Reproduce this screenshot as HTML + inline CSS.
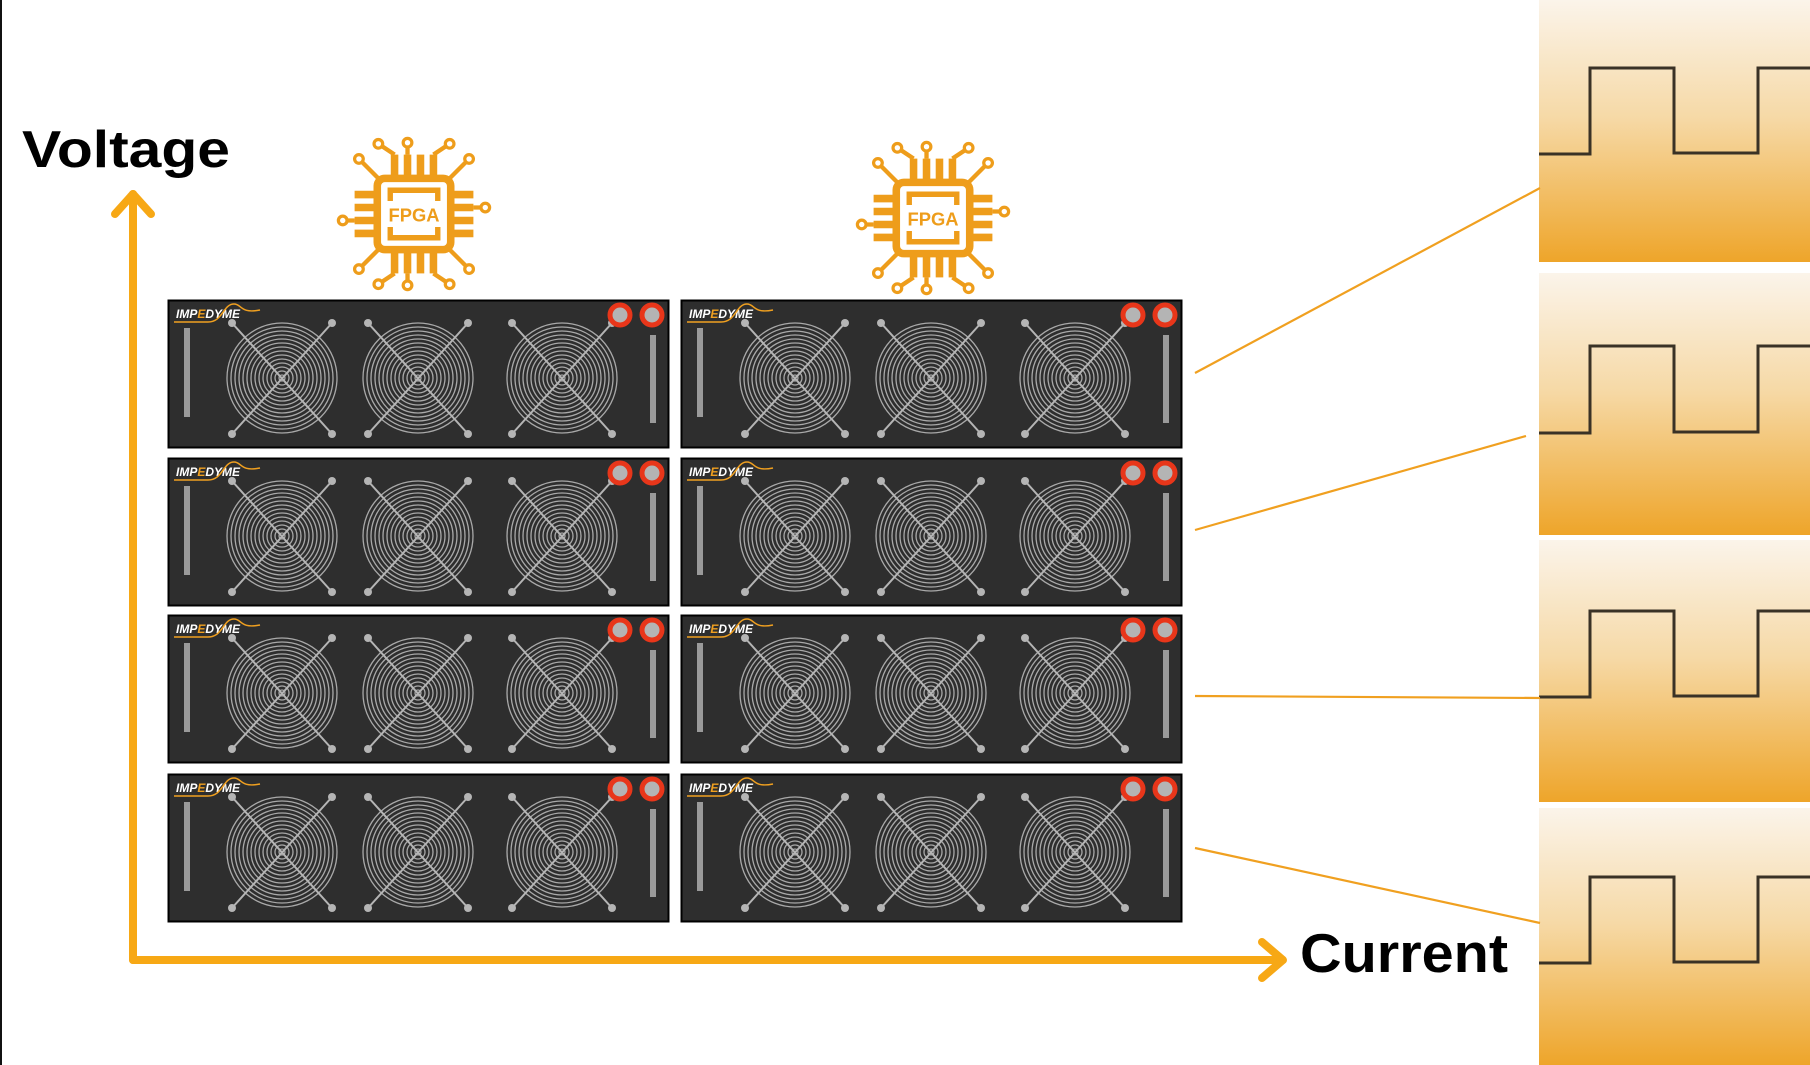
<!DOCTYPE html>
<html><head><meta charset="utf-8"><style>
html,body{margin:0;padding:0;background:#fff;}
svg{display:block;}
</style></head><body>
<svg width="1810" height="1065" viewBox="0 0 1810 1065" xmlns="http://www.w3.org/2000/svg">
<defs>
<linearGradient id="pg" x1="0" y1="0" x2="0" y2="1">
<stop offset="0" stop-color="#fbf4ea"/><stop offset="0.45" stop-color="#f6d9a6"/><stop offset="1" stop-color="#eea52a"/>
</linearGradient>
<g id="fan">
<g fill="none" stroke="#a9a9a9" stroke-width="1.3">
<circle r="55"/><circle r="51"/><circle r="47"/><circle r="43"/><circle r="39"/><circle r="35"/><circle r="31"/><circle r="27"/><circle r="23"/><circle r="19"/><circle r="15"/><circle r="11"/><circle r="7"/><circle r="3"/>
</g>
<g stroke="#b5b5b5" stroke-width="2"><line x1="-50" y1="-55" x2="50" y2="56"/><line x1="50" y1="-55" x2="-50" y2="56"/></g>
<g fill="#b5b5b5"><circle cx="-50" cy="-55" r="4"/><circle cx="50" cy="-55" r="4"/><circle cx="-50" cy="56" r="4"/><circle cx="50" cy="56" r="4"/></g>
</g>
<g id="unit">
<rect x="0.5" y="0.5" width="500" height="147" fill="#2e2e2e" stroke="#000" stroke-width="2"/>
<text x="8" y="18" font-family="Liberation Sans, sans-serif" font-weight="bold" font-style="italic" font-size="12" fill="#fff">IMP<tspan fill="#f0a020">E</tspan>DYME</text>
<path d="M6 22 H40 C55 22 55 4 66 4 C74 4 72 14 92 10" fill="none" stroke="#f0a020" stroke-width="1.5"/>
<rect x="16" y="28" width="6" height="89" fill="#9a9a9a"/>
<rect x="482" y="35" width="6" height="88" fill="#9a9a9a"/>
<use href="#fan" x="114" y="78"/>
<use href="#fan" x="250" y="78"/>
<use href="#fan" x="394" y="78"/>
<circle cx="452" cy="15" r="10" fill="#b4b4b4" stroke="#e8361a" stroke-width="5"/>
<circle cx="484" cy="15" r="10" fill="#b4b4b4" stroke="#e8361a" stroke-width="5"/>
</g>
<g id="fpga" stroke="#ee9d1b" fill="none">
<g stroke-width="7">
<line x1="-18" y1="-30" x2="-18" y2="-55"/><line x1="-6" y1="-30" x2="-6" y2="-55"/><line x1="6" y1="-30" x2="6" y2="-55"/><line x1="18" y1="-30" x2="18" y2="-55"/>
<line x1="-18" y1="30" x2="-18" y2="55"/><line x1="-6" y1="30" x2="-6" y2="55"/><line x1="6" y1="30" x2="6" y2="55"/><line x1="18" y1="30" x2="18" y2="55"/>
<line y1="-18" x1="-30" y2="-18" x2="-55"/><line y1="-6" x1="-30" y2="-6" x2="-55"/><line y1="6" x1="-30" y2="6" x2="-55"/><line y1="18" x1="-30" y2="18" x2="-55"/>
<line y1="-18" x1="30" y2="-18" x2="55"/><line y1="-6" x1="30" y2="-6" x2="55"/><line y1="6" x1="30" y2="6" x2="55"/><line y1="18" x1="30" y2="18" x2="55"/>
</g>
<g stroke-width="4">
<path d="M-30 -30 L-48 -48 M30 -30 L48 -48 M-30 30 L-48 48 M30 30 L48 48 M-6 -55 V-62 M-6 55 V62 M-55 6 H-62 M55 -6 H62"/>
<path d="M-18 -55 L-30 -63 M18 -55 L30 -63 M-18 55 L-30 63 M18 55 L30 63"/>
</g>
<g stroke-width="3" fill="#fff">
<circle cx="-51" cy="-51" r="4"/><circle cx="51" cy="-51" r="4"/><circle cx="-51" cy="51" r="4"/><circle cx="51" cy="51" r="4"/>
<circle cx="-6" cy="-66" r="4"/><circle cx="-6" cy="66" r="4"/><circle cx="-66" cy="6" r="4"/><circle cx="66" cy="-6" r="4"/>
<circle cx="-33" cy="-65" r="4"/><circle cx="33" cy="-65" r="4"/><circle cx="-33" cy="65" r="4"/><circle cx="33" cy="65" r="4"/>
</g>
<rect x="-34" y="-33" width="68" height="66" rx="7" fill="#fff" stroke-width="7"/>
<path d="M-22 -12 V-22 H22 V-12 M-22 12 V22 H22 V12" stroke-width="5"/>
<text x="0" y="7" text-anchor="middle" font-family="Liberation Sans, sans-serif" font-size="17" font-weight="bold" fill="#ee9d1b" stroke="none">FPGA</text>
</g>
</defs>

<rect x="0" y="0" width="2" height="1065" fill="#111"/>

<g>
<rect x="1539" y="0" width="271" height="262" fill="url(#pg)"/>
<rect x="1539" y="273" width="271" height="262" fill="url(#pg)"/>
<rect x="1539" y="540" width="271" height="262" fill="url(#pg)"/>
<rect x="1539" y="808" width="271" height="257" fill="url(#pg)"/>
<g fill="none" stroke="#3a3226" stroke-width="3">
<path d="M1539 154 H1590 V68 H1674 V153 H1758 V68 H1810"/>
<path d="M1539 433 H1590 V346 H1674 V432 H1758 V346 H1810"/>
<path d="M1539 697 H1590 V611 H1674 V696 H1758 V611 H1810"/>
<path d="M1539 963 H1590 V877 H1674 V962 H1758 V877 H1810"/>
</g>
</g>

<g stroke="#f0a020" stroke-width="2.2">
<line x1="1195" y1="373" x2="1540" y2="188"/>
<line x1="1195" y1="530" x2="1526" y2="436"/>
<line x1="1195" y1="696" x2="1540" y2="698"/>
<line x1="1195" y1="848" x2="1540" y2="923"/>
</g>

<use href="#unit" x="168" y="300"/>
<use href="#unit" x="681" y="300"/>
<use href="#unit" x="168" y="458"/>
<use href="#unit" x="681" y="458"/>
<use href="#unit" x="168" y="615"/>
<use href="#unit" x="681" y="615"/>
<use href="#unit" x="168" y="774"/>
<use href="#unit" x="681" y="774"/>

<g transform="translate(414 214) scale(1.08)"><use href="#fpga"/></g>
<g transform="translate(933 218) scale(1.08)"><use href="#fpga"/></g>

<g stroke="#f7a815" stroke-width="8" fill="none" stroke-linecap="round" stroke-linejoin="round">
<path d="M133 960 V194"/>
<path d="M115 214 L133 194 L151 214"/>
<path d="M133 960 H1282"/>
<path d="M1262 942 L1283 960 L1262 978"/>
</g>
<text x="22" y="167" font-family="Liberation Sans, sans-serif" font-weight="bold" font-size="52" textLength="208" lengthAdjust="spacingAndGlyphs" fill="#000">Voltage</text>
<text x="1300" y="972" font-family="Liberation Sans, sans-serif" font-weight="bold" font-size="55" textLength="208" lengthAdjust="spacingAndGlyphs" fill="#000">Current</text>
</svg>
</body></html>
